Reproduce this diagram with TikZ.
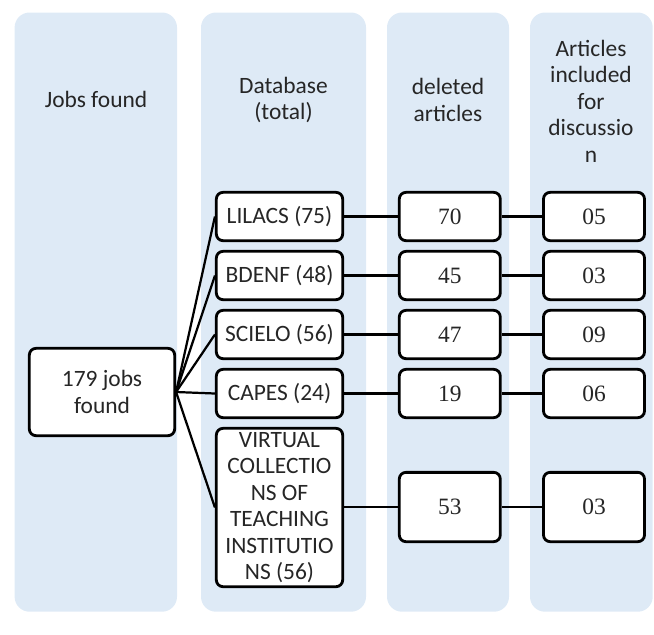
\documentclass[tikz,border=0pt]{standalone}
\usepackage{fontspec}
\setmainfont{Carlito}
\newfontfamily\countfont{Liberation Serif}
\usepackage{tikz}
\usetikzlibrary{positioning}
\definecolor{lanecolor}{RGB}{222,234,246}
\definecolor{labelcolor}{RGB}{38,38,38}
\tikzset{
    lane/.style={fill=lanecolor, rounded corners=0.45cm},
    lane label/.style={align=center, text=labelcolor, font=\fontsize{20}{22.6}\selectfont},
    box/.style={draw, rounded corners=0.2cm, line width=2.4pt, fill=white, align=center, inner sep=0pt, text=labelcolor, font=\fontsize{20}{22.6}\selectfont},
    jobs box/.style={box, minimum width=4.36cm, minimum height=2.62cm},
    db box/.style={box, minimum width=3.79cm, minimum height=1.45cm},
    count box/.style={box, minimum width=3.03cm, minimum height=1.45cm, font=\countfont\fontsize{20}{22.6}\selectfont},
    link/.style={line width=1.9pt}
}

\begin{document}
\begin{tikzpicture}[x=0.03cm, y=-0.03cm]
    \useasboundingbox (0,0) rectangle (654,634);

    % Background lanes
    \fill[lane] (14.6,12.5) rectangle (177,611.7);
    \fill[lane] (201,12.5) rectangle (366,611.7);
    \fill[lane] (387,12.5) rectangle (509,611.7);
    \fill[lane] (530,12.5) rectangle (652.7,611.7);

    % Lane headers
    \node[lane label] (H-jobs) at (96,99) {Jobs found};
    \node[lane label] (H-db) at (283.5,100) {Database\\(total)};
    \node[lane label] (H-del) at (448,100) {deleted\\articles};
    \node[lane label] (H-inc) at (591,101) {Articles\\included\\for\\discussio\\n};

    % Total found
    \node[jobs box] (jobs) at (102,392) {179 jobs\\found};

    % Databases with deleted and included counts
    \foreach \i/\y/\base/\del/\inc in {1/216.5/{LILACS (75)}/70/05,
                                       2/275.5/{BDENF (48)}/45/03,
                                       3/334.5/{SCIELO (56)}/47/09,
                                       4/393.5/{CAPES (24)}/19/06} {
        \node[db box] (DB-\i) at (279.5,\y) {\base};
        \node[count box] (DEL-\i) at (449.8,\y) {\del};
        \node[count box] (INC-\i) at (594,\y) {\inc};
    }

    % Virtual collections row
    \node[db box, minimum height=4.75cm] (DB-5) at (279.5,507.5)
        {VIRTUAL\\COLLECTIO\\NS OF\\TEACHING\\INSTITUTIO\\NS (56)};
    \node[count box, minimum height=2.08cm] (DEL-5) at (449.8,507) {53};
    \node[count box, minimum height=2.08cm] (INC-5) at (594,507) {03};

    % Connections
    \foreach \i in {1,2,3,4,5} {
        \draw[link] (jobs.east) -- (DB-\i.west);
        \draw[link] (DB-\i.east |- DEL-\i) -- (DEL-\i);
        \draw[link] (DEL-\i) -- (INC-\i);
    }
\end{tikzpicture}
\end{document}
